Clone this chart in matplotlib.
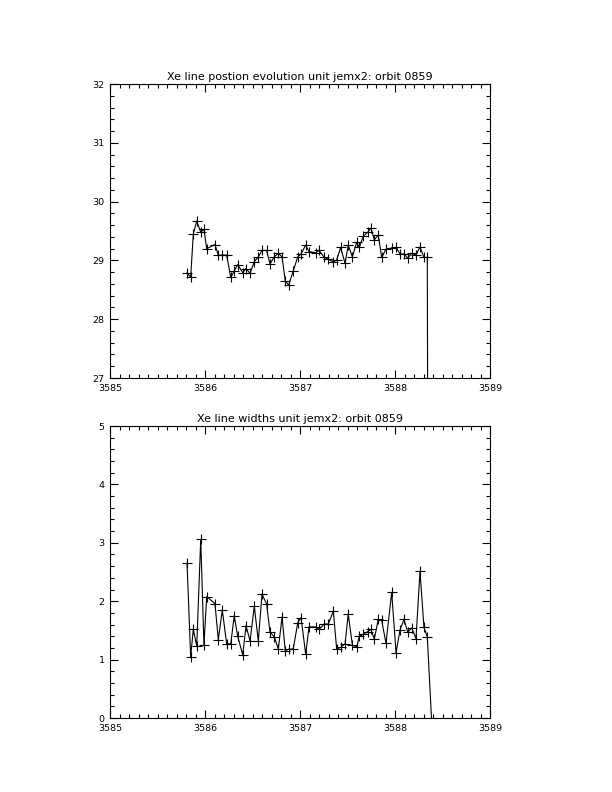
import matplotlib
matplotlib.use("Agg")
import matplotlib.pyplot as plt
from matplotlib.ticker import MultipleLocator

# Time offsets (days after 3585)
t_offset = [0.811, 0.849, 0.877, 0.913, 0.955, 0.989, 1.018, 1.105, 1.140, 1.182,
            1.228, 1.271, 1.308, 1.344, 1.397, 1.432, 1.474, 1.519, 1.561, 1.600,
            1.649, 1.684, 1.729, 1.772, 1.811, 1.845, 1.881, 1.929, 1.976, 2.011,
            2.060, 2.095, 2.165, 2.200, 2.256, 2.298, 2.351, 2.386, 2.428, 2.474,
            2.508, 2.551, 2.597, 2.624, 2.666, 2.713, 2.747, 2.782, 2.824, 2.860,
            2.905, 2.965, 3.011, 3.053, 3.095, 3.134, 3.176, 3.221, 3.263, 3.305,
            3.340, 3.384]
time = [3585 + v for v in t_offset]

position = [28.79, 28.71, 29.45, 29.67, 29.48, 29.53, 29.20, 29.27, 29.09, 29.09,
            29.09, 28.71, 28.82, 28.93, 28.79, 28.86, 28.78, 28.98, 29.06, 29.17,
            29.17, 28.94, 29.06, 29.12, 29.06, 28.65, 28.58, 28.82, 29.06, 29.11,
            29.26, 29.15, 29.13, 29.17, 29.05, 29.02, 28.97, 29.01, 29.22, 28.95,
            29.26, 29.06, 29.31, 29.22, 29.41, 29.48, 29.55, 29.35, 29.43, 29.05,
            29.19, 29.21, 29.22, 29.11, 29.11, 29.04, 29.12, 29.09, 29.23, 29.05,
            29.05, 0.0]

width = [2.65, 1.05, 1.52, 1.23, 3.06, 1.25, 2.08, 1.96, 1.34, 1.85,
         1.27, 1.27, 1.75, 1.40, 1.08, 1.58, 1.32, 1.91, 1.32, 2.12,
         1.95, 1.47, 1.39, 1.18, 1.73, 1.15, 1.18, 1.18, 1.63, 1.72,
         1.09, 1.56, 1.56, 1.52, 1.61, 1.61, 1.83, 1.18, 1.21, 1.27,
         1.78, 1.25, 1.21, 1.40, 1.43, 1.48, 1.52, 1.35, 1.69, 1.67,
         1.28, 2.15, 1.12, 1.51, 1.69, 1.47, 1.54, 1.36, 2.51, 1.55,
         1.39, 0.0]

x_ticks = [3585, 3586, 3587, 3588, 3589]
title_top = "Xe line postion evolution unit jemx2: orbit 0859"
title_bot = "Xe line widths unit jemx2: orbit 0859"

plt.rcParams['font.family'] = ['DejaVu Sans']
fig = plt.figure(figsize=(6.12, 7.92), dpi=100)

ax1 = fig.add_axes([110/612, 414/792, 380/612, 294/792])
ax2 = fig.add_axes([110/612, 74/792, 380/612, 292/792])

marker_idx = list(range(len(time) - 1))

def style(ax, ylim, ymajor, yminor):
    ax.set_xlim(3585, 3589)
    ax.set_ylim(*ylim)
    ax.set_xticks(x_ticks)
    ax.set_xticklabels([str(v) for v in x_ticks])
    ax.xaxis.set_minor_locator(MultipleLocator(0.1))
    ax.yaxis.set_major_locator(MultipleLocator(ymajor))
    ax.yaxis.set_minor_locator(MultipleLocator(yminor))
    ax.tick_params(which='both', direction='in', top=True, right=True,
                   labelsize=6.8, width=0.8, colors='black')
    ax.tick_params(axis='x', pad=4)
    ax.tick_params(axis='y', pad=4)
    ax.tick_params(which='major', length=6)
    ax.tick_params(which='minor', length=3)
    for s in ax.spines.values():
        s.set_linewidth(0.8)

ax1.plot(time, position, color='black', lw=0.8, marker='+', ms=6.5, mew=0.8,
         markevery=marker_idx)
style(ax1, (27, 32), 1, 0.2)
ax1.set_title(title_top, fontsize=8, pad=3)

ax2.plot(time, width, color='black', lw=0.8, marker='+', ms=6.5, mew=0.8,
         markevery=marker_idx)
style(ax2, (0, 5), 1, 0.2)
ax2.set_title(title_bot, fontsize=8, pad=3)

fig.savefig("out.png", dpi=100, facecolor='white')
